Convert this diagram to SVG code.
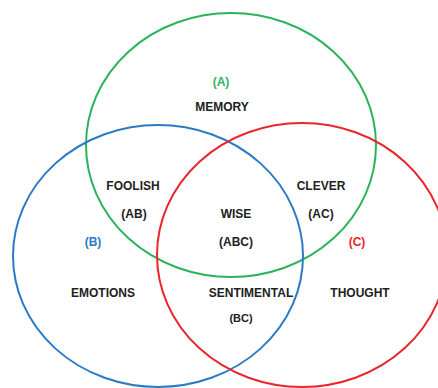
<svg xmlns="http://www.w3.org/2000/svg" width="438" height="388" viewBox="0 0 438 388">
<style>
.c{fill:none;stroke-width:2}
text{font-family:"Liberation Sans",Arial,sans-serif;font-weight:bold;font-size:12px;text-anchor:middle;fill:#222}
.g{fill:#2bb35b}.b{fill:#2a7ac6}.r{fill:#e8262b}
</style>
<rect width="438" height="388" fill="#fff"/>
<g id="connectors"></g>
<g id="setA">
<ellipse class="c" cx="231" cy="145" rx="145" ry="132" stroke="#2bb35b"/>
</g>
<g id="setB">
<ellipse class="c" cx="158" cy="256" rx="145" ry="131" stroke="#2a7ac6"/>
</g>
<g id="setC">
<ellipse class="c" cx="302" cy="255" rx="145" ry="132" stroke="#e8262b"/>
</g>
<g id="labels">
<text x="221" y="86" class="g">(A)</text>
<text x="222" y="111">MEMORY</text>
<text x="133" y="190">FOOLISH</text>
<text x="321" y="190">CLEVER</text>
<text x="134" y="218">(AB)</text>
<text x="236" y="218">WISE</text>
<text x="321" y="218">(AC)</text>
<text x="93" y="246" class="b">(B)</text>
<text x="236" y="246">(ABC)</text>
<text x="357" y="246" class="r">(C)</text>
<text x="103" y="297">EMOTIONS</text>
<text x="251" y="297">SENTIMENTAL</text>
<text x="360" y="297">THOUGHT</text>
<text x="241" y="322" style="font-size:11px">(BC)</text>
</g>
</svg>
